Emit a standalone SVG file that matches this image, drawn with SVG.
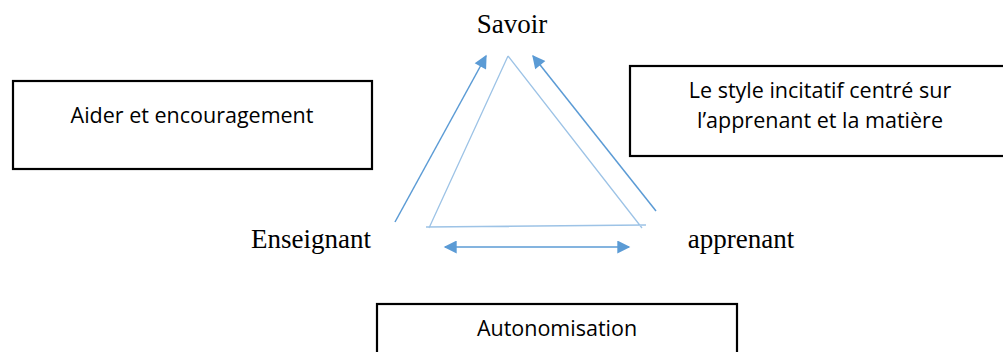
<svg xmlns="http://www.w3.org/2000/svg" width="1003" height="352" viewBox="0 0 1003 352">
<style>
.box{fill:#fff;stroke:#000;stroke-width:2.2}
.bt{font-family:"Open Sans","Liberation Sans",sans-serif;font-size:21.5px;fill:#000;text-anchor:middle}
.lbl{font-family:"Liberation Serif",serif;font-size:27px;fill:#000;text-anchor:middle}
.arr{stroke:#5b9bd5;stroke-width:1.5;fill:none}
.tri{stroke:#9dc3e6;stroke-width:1.3;fill:none}
</style>
<defs>
<marker id="ah2" viewBox="0 0 10 10" refX="9" refY="5" markerWidth="14" markerHeight="13" markerUnits="userSpaceOnUse" orient="auto-start-reverse">
<path d="M0,0 L10,5 L0,10 Z" fill="#5b9bd5"/>
</marker>
</defs>
<g id="node-aider"><rect class="box" x="13" y="81" width="359" height="88"/><text class="bt" x="192" y="123">Aider et encouragement</text></g>
<g id="node-style"><rect class="box" x="630" y="66" width="380" height="90"/><text class="bt" x="820" y="98">Le style incitatif centré sur</text><text class="bt" x="820" y="128">l’apprenant et la matière</text></g>
<g id="node-autonomisation"><rect class="box" x="377" y="304" width="360" height="60"/><text class="bt" x="557" y="336">Autonomisation</text></g>
<g id="node-savoir"><text class="lbl" x="512" y="33">Savoir</text></g>
<g id="node-enseignant"><text class="lbl" x="311" y="248">Enseignant</text></g>
<g id="node-apprenant"><text class="lbl" x="741" y="248">apprenant</text></g>
<g id="connectors">
<path class="tri" d="M508,56 L429,228 M426,227 L646,225 M508,56 L642,228"/>
<line class="arr" x1="395" y1="222" x2="486" y2="56" marker-end="url(#ah2)"/>
<line class="arr" x1="656" y1="211" x2="533" y2="56" marker-end="url(#ah2)"/>
<line class="arr" x1="445" y1="247" x2="629" y2="247" marker-start="url(#ah2)" marker-end="url(#ah2)"/>
</g>
</svg>
